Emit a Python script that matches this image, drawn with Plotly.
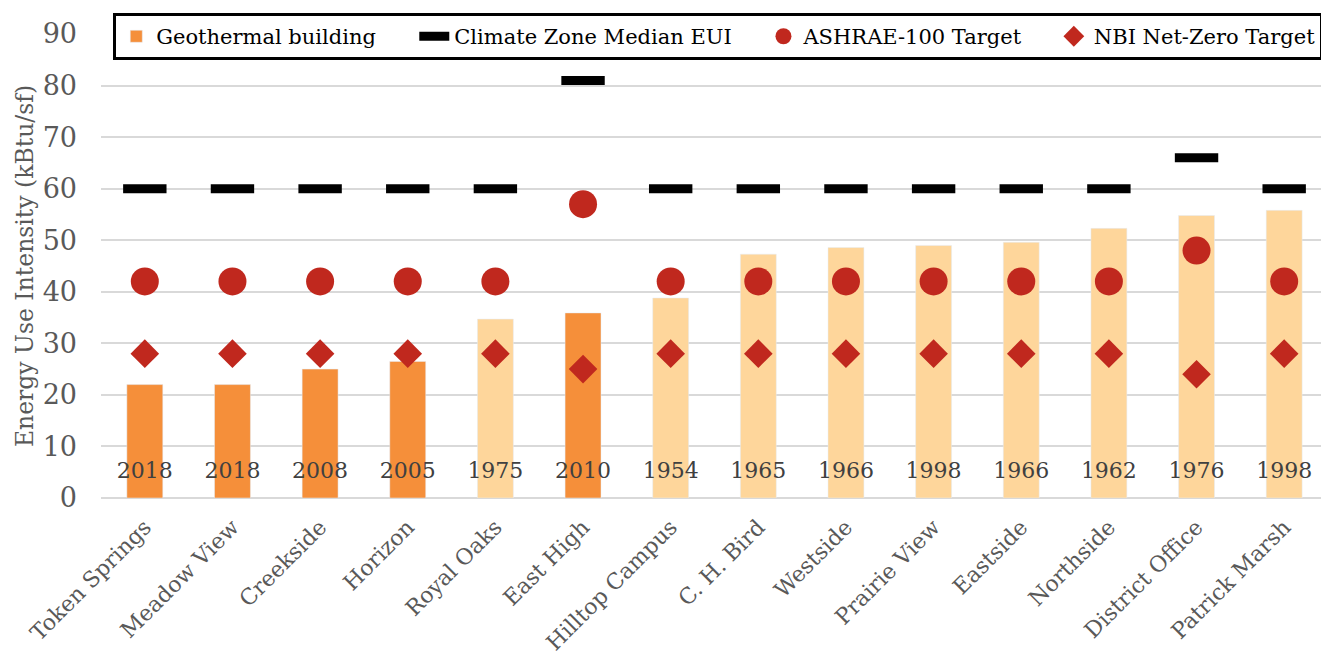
import plotly.graph_objects as go

buildings = ["Token Springs", "Meadow View", "Creekside", "Horizon", "Royal Oaks", "East High",
             "Hilltop Campus", "C. H. Bird", "Westside", "Prairie View", "Eastside", "Northside",
             "District Office", "Patrick Marsh"]
eui = [22, 22, 25, 26.5, 34.7, 35.9, 38.8, 47.3, 48.6, 49.0, 49.6, 52.3, 54.8, 55.8]
geothermal = [True, True, True, True, False, True, False, False, False, False, False, False, False, False]
climate_median = [60, 60, 60, 60, 60, 81, 60, 60, 60, 60, 60, 60, 66, 60]
ashrae_target = [42, 42, 42, 42, 42, 57, 42, 42, 42, 42, 42, 42, 48, 42]
nbi_target = [28, 28, 28, 28, 28, 25, 28, 28, 28, 28, 28, 28, 24, 28]
years = ["2018", "2018", "2008", "2005", "1975", "2010", "1954", "1965", "1966", "1998",
         "1966", "1962", "1976", "1998"]

YEAR_LABEL_Y = 5
FONT = "DejaVu Serif"
GRAY = "#595959"
ORANGE = "#F58F3A"
LIGHT = "#FED69B"
RED = "#C0281E"
NB = "\u00a0"

geo_vals = [v if g else None for v, g in zip(eui, geothermal)]
other_vals = [None if g else v for v, g in zip(eui, geothermal)]

fig = go.Figure()
fig.add_trace(go.Bar(x=buildings, y=geo_vals, name="Geothermal building" + NB * 5, marker_color=ORANGE,
                     width=0.41, legendrank=1))
fig.add_trace(go.Bar(x=buildings, y=other_vals, name="Other building", marker_color=LIGHT,
                     width=0.41, showlegend=False))
fig.add_trace(go.Scatter(x=buildings, y=climate_median, mode="markers", showlegend=False,
                         marker=dict(symbol="line-ew", size=31, color="black",
                                     line=dict(color="black", width=9))))
fig.add_trace(go.Scatter(x=[None], y=[None], mode="lines", name="Climate Zone Median EUI" + NB * 4,
                         line=dict(color="black", width=9), legendrank=2))
fig.add_trace(go.Scatter(x=buildings, y=ashrae_target, mode="markers", name="ASHRAE-100 Target" + NB * 4,
                         marker=dict(symbol="circle", size=28, color=RED), legendrank=3))
fig.add_trace(go.Scatter(x=buildings, y=nbi_target, mode="markers", name="NBI Net-Zero Target",
                         marker=dict(symbol="diamond", size=22, color=RED), legendrank=4))
fig.add_trace(go.Scatter(x=buildings, y=[YEAR_LABEL_Y] * len(buildings), mode="text", text=years,
                         textfont=dict(family=FONT, size=22, color="#404040"), showlegend=False,
                         hoverinfo="skip", cliponaxis=False))

fig.update_layout(
    width=1329, height=662,
    margin=dict(l=93, r=9, t=26, b=172, autoexpand=False),
    paper_bgcolor="white", plot_bgcolor="white",
    barmode="overlay",
    font=dict(family=FONT, color=GRAY),
    legend=dict(orientation="h", x=0.01, y=1.045, xanchor="left", yanchor="top",
                bordercolor="black", borderwidth=3, font=dict(family=FONT, size=21, color="black"),
                bgcolor="rgba(0,0,0,0)"),
)
fig.update_xaxes(range=[-0.5, len(buildings) - 0.5], tickangle=-45,
                 tickfont=dict(family=FONT, size=22, color=GRAY),
                 showgrid=False, showline=False, ticks="", ticklabelstandoff=11, automargin=False)
fig.update_yaxes(range=[0, 90], dtick=10, showgrid=True, gridcolor="#D9D9D9", gridwidth=1.5,
                 zeroline=True, zerolinecolor="#D9D9D9", zerolinewidth=1.5,
                 tickfont=dict(family=FONT, size=27, color=GRAY), ticklabelstandoff=23, automargin=False,
                 title=dict(text="Energy Use Intensity (kBtu/sf)", font=dict(family=FONT, size=23.5, color=GRAY),
                            standoff=2))

fig.write_html("out.html")
